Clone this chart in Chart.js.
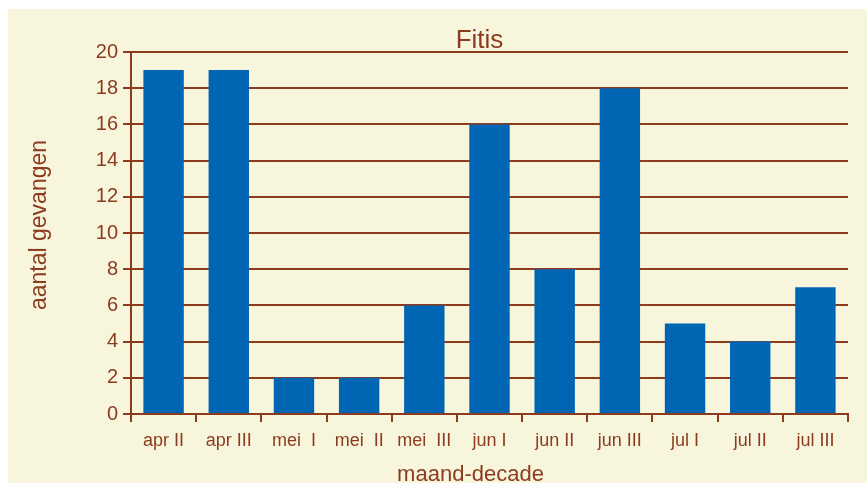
<!DOCTYPE html>
<html>
<head>
<meta charset="utf-8">
<script src="https://cdn.jsdelivr.net/npm/chart.js@4/dist/chart.umd.min.js"></script>
<style>
  html, body { margin: 0; padding: 0; background: #ffffff; overflow: hidden; }
  #wrap { position: absolute; left: 8px; top: 9px; width: 859px; height: 474px; background: #f7f6dc; }
</style>
</head>
<body>
<div id="wrap"><canvas id="graph" width="859" height="474"></canvas></div>
<script>
"use strict";
const CATEGORIES = ["apr II", "apr III", "mei  I", "mei  II", "mei  III", "jun I", "jun II", "jun III", "jul I", "jul II", "jul III"];
const GEVANGEN = [19, 19, 2, 2, 6, 16, 8, 18, 5, 4, 7];
const Y_TICKS = [0, 2, 4, 6, 8, 10, 12, 14, 16, 18, 20];
const TITLE = "Fitis";
const X_TITLE = "maand-decade";
const Y_TITLE = "aantal gevangen";

const BROWN = "#8c3b1e";
const BLUE = "#0066b3";
const FONT = "'Liberation Sans', Arial, sans-serif";

// titles are placed a bit off-centre in the original, so draw them by hand
const titlesPlugin = {
    id: "titles",
    afterDraw: function (chart) {
        const ctx = chart.ctx;
        const area = chart.chartArea;
        const midX = (area.left + area.right) / 2;
        const midY = (area.top + area.bottom) / 2;
        ctx.save();
        ctx.fillStyle = BROWN;
        ctx.textAlign = "center";
        ctx.textBaseline = "alphabetic";
        ctx.font = "26px " + FONT;
        ctx.fillText(TITLE, midX - 10, area.top - 4);
        ctx.font = "22px " + FONT;
        ctx.fillText(X_TITLE, midX - 19, chart.height - 2);
        ctx.translate(38, midY - 8);
        ctx.rotate(-Math.PI / 2);
        ctx.font = "23px " + FONT;
        ctx.fillText(Y_TITLE, 0, 0);
        ctx.restore();
    },
};

function drawGraph() {
    const data = {
        labels: CATEGORIES,
        datasets: [
            {
                label: TITLE,
                data: GEVANGEN,
                backgroundColor: BLUE,
                borderWidth: 0,
                categoryPercentage: 1,
                barPercentage: 0.62,
            },
        ],
    };
    const config = {
        type: "bar",
        data,
        plugins: [titlesPlugin],
        options: {
            animation: false,
            responsive: false,
            layout: { padding: { left: 0, right: 19, top: 43, bottom: 0 } },
            plugins: {
                legend: { display: false },
                tooltip: { enabled: false },
                title: { display: false },
            },
            scales: {
                x: {
                    afterFit: function (scale) { scale.height = 69; },
                    grid: {
                        offset: true,
                        drawOnChartArea: false,
                        color: BROWN,
                        lineWidth: 2,
                        tickLength: 8,
                    },
                    border: { display: true, color: BROWN, width: 2 },
                    ticks: {
                        color: BROWN,
                        font: { family: FONT, size: 18 },
                        padding: 8,
                        maxRotation: 0,
                        autoSkip: false,
                    },
                },
                y: {
                    min: 0,
                    max: 20,
                    afterFit: function (scale) { scale.width = 123; },
                    afterBuildTicks: function (scale) {
                        scale.ticks = Y_TICKS.map(function (v) { return { value: v }; });
                    },
                    grid: {
                        color: BROWN,
                        lineWidth: 2,
                        tickLength: 8,
                    },
                    border: { display: true, color: BROWN, width: 2 },
                    ticks: {
                        color: BROWN,
                        font: { family: FONT, size: 20 },
                        padding: 5,
                    },
                },
            },
        },
    };
    new Chart(document.getElementById("graph"), config);
}
drawGraph();
</script>
</body>
</html>
